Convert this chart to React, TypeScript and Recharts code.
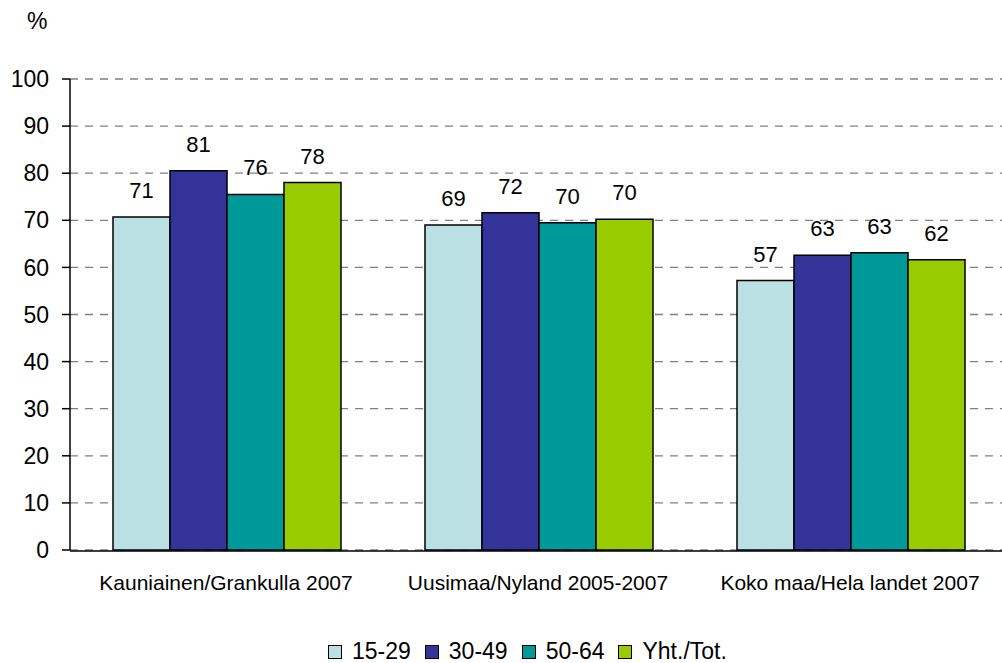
import React from 'react';
import { BarChart, Bar, XAxis, YAxis, CartesianGrid, LabelList } from 'recharts';

const categories = ['Kauniainen/Grankulla 2007', 'Uusimaa/Nyland 2005-2007', 'Koko maa/Hela landet 2007'];
const age15to29 = [70.7, 69.0, 57.2];
const age30to49 = [80.5, 71.6, 62.6];
const age50to64 = [75.5, 69.5, 63.1];
const total = [78.0, 70.2, 61.6];
const yTicks = [0, 10, 20, 30, 40, 50, 60, 70, 80, 90, 100];
const boundaryTicks = [0, 1, 2, 3];

const series = [
  { key: 'a', name: '15-29', color: '#BBE0E3', values: age15to29 },
  { key: 'b', name: '30-49', color: '#333399', values: age30to49 },
  { key: 'c', name: '50-64', color: '#009999', values: age50to64 },
  { key: 'd', name: 'Yht./Tot.', color: '#99CC00', values: total },
];

const data = categories.map((name, i) => {
  const row: Record<string, string | number> = { name };
  series.forEach((s) => (row[s.key] = s.values[i]));
  return row;
});

const FONT = 'Arial, "Liberation Sans", sans-serif';

function LegendRow() {
  return (
    <div
      style={{
        position: 'absolute',
        left: 328,
        top: 638,
        display: 'flex',
        alignItems: 'center',
        fontFamily: FONT,
        fontSize: 23,
        lineHeight: '27px',
        color: '#000',
      }}
    >
      {series.map((s, i) => (
        <div key={s.key} style={{ display: 'flex', alignItems: 'center', marginRight: i < series.length - 1 ? 14 : 0 }}>
          <span
            style={{
              display: 'inline-block',
              width: 12,
              height: 12,
              background: s.color,
              border: '1.5px solid #000',
              marginRight: 10,
            }}
          />
          <span>{s.name}</span>
        </div>
      ))}
    </div>
  );
}

export default function App() {
  return (
    <div style={{ position: 'absolute', left: 0, top: 0, width: 1002, height: 663, overflow: 'hidden', background: '#fff' }}>
      <div style={{ position: 'absolute', left: 27, top: 8, fontFamily: FONT, fontSize: 23, color: '#000' }}>%</div>
      <BarChart
        width={1010}
        height={663}
        data={data}
        margin={{ top: 79, right: 4, left: 0, bottom: 111 }}
        barCategoryGap={43}
        barGap={0}
      >
        <CartesianGrid vertical={false} stroke="#808080" strokeWidth={1.3} strokeDasharray="8 7" />
        <XAxis
          dataKey="name"
          height={1}
          axisLine={false}
          tickLine={false}
          tickMargin={19}
          interval={0}
          tick={{ fill: '#000', fontSize: 21, fontFamily: FONT }}
        />
        <XAxis
          xAxisId="grid"
          type="number"
          domain={[0, 3]}
          ticks={boundaryTicks}
          allowDataOverflow
          height={1}
          tick={false}
          tickSize={7}
          stroke="#000"
          strokeWidth={1.5}
        />
        <YAxis
          domain={[0, 100]}
          ticks={yTicks}
          width={70}
          tickSize={8}
          tickMargin={13}
          stroke="#000"
          strokeWidth={1.5}
          tick={{ fill: '#000', fontSize: 23, fontFamily: FONT }}
        />
        {series.map((s) => (
          <Bar
            key={s.key}
            dataKey={s.key}
            name={s.name}
            fill={s.color}
            stroke="#000"
            strokeWidth={1.5}
            isAnimationActive={false}
          >
            <LabelList
              dataKey={s.key}
              position="top"
              offset={19}
              formatter={(v: number) => Math.round(v)}
              style={{ fill: '#000', fontSize: 22, fontFamily: FONT }}
            />
          </Bar>
        ))}
      </BarChart>
      <LegendRow />
    </div>
  );
}
